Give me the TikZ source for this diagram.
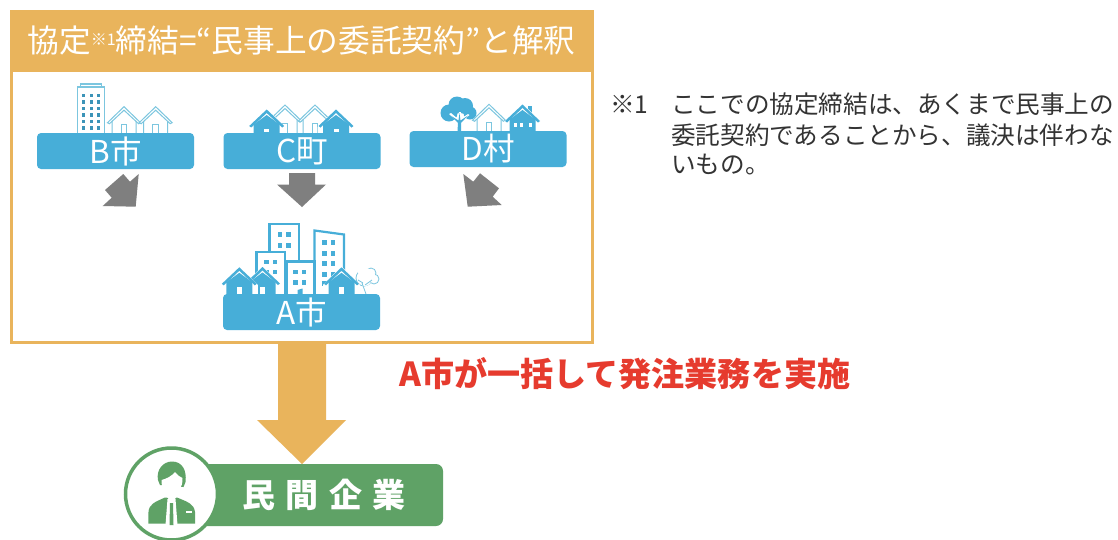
\documentclass[tikz,border=0pt]{standalone}
\usepackage{fontspec}
\setmainfont{Noto Sans CJK JP}
\definecolor{bl}{HTML}{47AED8}
\definecolor{lb}{HTML}{7CC6DF}
\definecolor{or}{HTML}{E9B45C}
\definecolor{gn}{HTML}{5FA266}
\definecolor{gy}{HTML}{7F7F7F}
\definecolor{rd}{HTML}{E63B2E}
\definecolor{tx}{HTML}{333333}
\tikzset{
 bar/.style={fill=bl,rounded corners=4pt,minimum width=157pt,minimum height=36pt,inner sep=0pt,text=white,font=\fontsize{31.5}{31.5}\selectfont},
 block/.style={fill=gy,draw=none},
 bigblock/.style={fill=or,draw=none},
 note/.style={anchor=west,inner sep=0pt,text=tx,font=\fontsize{24.6}{24.6}\selectfont},
 bld/.style={draw=bl,fill=white,line width=2.2pt},
 win/.style={fill=bl,draw=none},
}
% outlined house: apex at (#1,#2)
\newcommand\outhouse[2]{\begin{scope}[shift={(#1,#2)}]
 \draw[lb,fill=white,line width=1pt] (-12,12)--(0,2)--(12,12)--(12,30)--(-12,30)--cycle;
 \draw[lb,line width=1pt] (-2.8,18)rectangle(2.8,30);
 \draw[lb,fill=white,line width=1pt] (-16.5,16)--(0,0)--(16.5,16)--(14.5,17)--(0,3.5)--(-14.5,17)--cycle;
\end{scope}}
% filled house: apex (#1,#2), window top #3, size #4 x #5
\newcommand\fullhouse[5]{\begin{scope}[shift={(#1,#2)}]
 \fill[white] (-18.5,17.5)--(0,-1)--(18.5,17.5)--(18.5,32)--(-18.5,32)--cycle;
 \fill[bl] (-13,15)--(0,5.5)--(13,15)--(13,32)--(-13,32)--cycle;
 \fill[bl] (-17.5,16.5)--(0,0)--(17.5,16.5)--(15.5,18)--(0,3.5)--(-15.5,18)--cycle;
 \fill[white] (-#4/2,#3)rectangle(#4/2,#3+#5);
\end{scope}}
\newcommand\twowin[2]{\fill[win] (#1,#2)rectangle+(4.8,4.8); \fill[win] (#1+8.5,#2)rectangle+(4.8,4.8);}
\begin{document}
\begin{tikzpicture}[x=1pt,y=-1pt]
\useasboundingbox (0,0) rectangle (1118,539);
\fill[white] (0,0) rectangle (1118,539);

% frame and title
\draw[or,line width=3pt] (11.5,40) rectangle (592,342);
\node[fill=or,minimum width=584pt,minimum height=62pt,inner sep=0pt,text=white,font=\fontsize{31.7}{31.7}\selectfont] (title) at (301.5,41)
 {協定{\fontsize{16}{16}\selectfont\raisebox{7pt}{※1}}締結=“民事上の委託契約”と解釈};

% B city icons
\draw[lb,fill=white,line width=1.2pt] (77.3,87) rectangle (104.7,135);
\draw[lb,fill=white,line width=1.2pt] (80.7,84) rectangle (101.7,87);
\foreach \yy in {93.5,100,106.5,113,119.5,126}{\foreach \xx in {82,89.5,96.5}{\fill[bl!85!black] (\xx,\yy) rectangle +(3,3.6);}}
\outhouse{124}{106.7}
\outhouse{155.7}{106.7}
\node[bar] (b) at (115.5,151) {B市};

% C town icons
\outhouse{285}{105}
\outhouse{315}{105}
\fullhouse{266.7}{109.5}{19.5}{5}{3}
\fullhouse{336}{109.5}{19.5}{5}{3}
\node[bar] (c) at (302,151) {C町};

% D village icons
\foreach \cx/\cy/\rr in {449/113/8.5,457/105/8.5,465/106/8,470/113/6.5}{\fill[bl] (\cx,\cy) circle[radius=\rr pt];}
\fill[white] (457.7,122) -- (449,114) -- (451,113) -- (458,119) -- (459,112) -- (461,112) -- (460.5,119) -- (468,114) -- (469.5,115) -- (461,122) -- cycle;
\fill[bl] (457.5,131) -- (458,123) -- (450.5,115.5) -- (458.5,120.5) -- (459.5,113) -- (460.5,120.5) -- (468,115.5) -- (461,123) -- (461,131) -- cycle;
\outhouse{489}{104.3}
\fill[bl] (528.3,106) rectangle (531.7,114);
\fullhouse{522.5}{104.5}{18}{0}{0}
\foreach \xx in {513.5,520,528.5}{\fill[white] (\xx,122.5) rectangle +(3.2,4);}
\node[bar] (d) at (488,149) {D村};

% A city icons
\draw[bld] (269.5,224) rectangle (299,300);
\foreach \yy in {232,243}{\twowin{277.5}{\yy}}
\draw[bld] (256.5,252) rectangle (285,300);
\foreach \yy in {259.5,269.5}{\twowin{264}{\yy}}
\draw[bld] (314.5,230.5) -- (344,234.5) -- (344,300) -- (314.5,300) -- cycle;
\foreach \yy in {240,251,261,272}{\twowin{322}{\yy}}
\twowin{322}{281}
\draw[bld] (286.5,261.5) rectangle (314.5,300);
\foreach \yy in {269.5,280}{\twowin{293}{\yy}}
\fill[bl] (297.5,294) -- (297.5,290) -- (302.5,288.5) -- (302.5,294) -- cycle;
\draw[lb,fill=white,line width=.8pt] (364,278) circle[radius=8pt];
\draw[lb,fill=white,line width=.8pt] (371,273) circle[radius=5pt];
\draw[lb,fill=white,line width=.8pt] (374,279) circle[radius=5pt];
\fill[white] (363,271) circle[radius=5.5pt] (369,275) circle[radius=6pt] (365,280) circle[radius=6pt];
\draw[lb,line width=.8pt] (366,294) -- (362,283) (365,285) -- (372,280) (363,283) -- (358,280);
\fullhouse{262.5}{267}{20}{5.5}{7}
\fullhouse{239.3}{267.3}{20}{5.5}{7}
\fullhouse{341.5}{267.3}{20}{5.5}{7}
\node[bar] (a) at (301.5,312) {A市};

% small block arrows
\fill[block] (138.7,174) -- (135.7,206.7) -- (102.7,206) -- (111.7,197.7) -- (105,190) -- (123.3,174) -- (130,181.7) -- cycle;
\fill[block] (289,173) -- (315,173) -- (315,184.5) -- (326,184.5) -- (302,207) -- (277,184.5) -- (289,184.5) -- cycle;
\fill[block] (463.3,174) -- (467.7,206.7) -- (501.7,205) -- (492.7,196.7) -- (499,188.3) -- (480,173.3) -- (473.3,181.7) -- cycle;

% large arrow
\fill[bigblock] (278,344) -- (326,344) -- (326,420) -- (346,420) -- (302,464) -- (257,420) -- (278,420) -- cycle;

% company
\node[fill=gn,rounded corners=7pt,minimum width=248pt,minimum height=62pt,inner sep=0pt] (firmbar) at (319,495) {};
\node[inner sep=0pt,text=white,font=\fontsize{33}{33}\bfseries\selectfont] (firm) at (324,495) {民\hspace{10.5pt}間\hspace{10.5pt}企\hspace{10.5pt}業};
\node[circle,draw=gn,line width=3.5pt,fill=white,minimum size=92pt,inner sep=0pt] (person) at (171.5,494) {};
% person icon
\fill[gn] (148.3,523.5) -- (148.5,512) .. controls (149,504) and (155,502) .. (165,497.5) -- (177,497.5) .. controls (188,502) and (194,504) .. (195,512) -- (195,523.5) -- cycle;
\fill[white] (164.5,494) -- (178.5,494) -- (172,503) -- cycle;
\fill[white] (165.5,525) -- (167.5,499) -- (175.5,499) -- (177.5,525) -- cycle;
\fill[gn] (169.5,525) -- (170,503) -- (173,503) -- (173.5,525) -- cycle;
\fill[white] (186,510.5) rectangle (192,512.5);
\fill[gn] (158,480) .. controls (156,470) and (163,461.5) .. (172,461.5) .. controls (182,461.5) and (187,470) .. (185.5,482) -- (183.5,487) -- (160,485) -- cycle;
\fill[white] (161.5,480) .. controls (166,479) and (172,476) .. (175,472) .. controls (177,475) and (180,477) .. (182.5,478) .. controls (183,488) and (177,494) .. (172,494) .. controls (166,494) and (161,488) .. (161.5,480) -- cycle;

% labels
\node[inner sep=0pt,anchor=west,text=rd,font=\fontsize{33.1}{33.1}\bfseries\selectfont] (lead) at (399,374) {A市が一括して発注業務を実施};
\node[note] (star) at (610,104) {※1};
\node[note] (n1) at (671,104) {ここでの協定締結は、あくまで民事上の};
\node[note] (n2) at (671,135) {委託契約であることから、議決は伴わな};
\node[note] (n3) at (671,165) {いもの。};
\end{tikzpicture}
\end{document}
